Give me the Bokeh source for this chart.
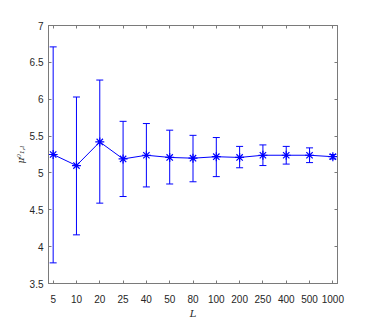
from bokeh.plotting import figure
from bokeh.models import ColumnDataSource, Whisker, TeeHead, FixedTicker, LinearAxis, Range1d
from bokeh.embed import file_html
from bokeh.resources import INLINE

L_labels = ["5", "10", "20", "25", "40", "50", "80", "100", "200", "250", "400", "500", "1000"]
mu = [5.25, 5.10, 5.42, 5.19, 5.24, 5.21, 5.20, 5.22, 5.21, 5.24, 5.24, 5.24, 5.22]
upper = [6.71, 6.03, 6.26, 5.70, 5.67, 5.58, 5.51, 5.48, 5.36, 5.38, 5.36, 5.34, 5.25]
lower = [3.78, 4.16, 4.59, 4.68, 4.81, 4.85, 4.88, 4.95, 5.07, 5.10, 5.12, 5.14, 5.19]
y_ticks = [3.5, 4, 4.5, 5, 5.5, 6, 6.5, 7]
y_tick_labels = ["3.5", "4", "4.5", "5", "5.5", "6", "6.5", "7"]

pos = list(range(1, len(L_labels) + 1))
src = ColumnDataSource(dict(x=pos, mu=mu, upper=upper, lower=lower))

BLUE = "#0000ff"
AX = "#7a7a7a"
TXT = "#262626"

p = figure(width=366, height=321, output_backend="svg", toolbar_location=None,
           x_range=Range1d(0.8, len(L_labels) + 0.2), y_range=Range1d(3.5, 7),
           min_border_left=48, min_border_right=29, min_border_top=25, min_border_bottom=36)
p.grid.visible = False
p.outline_line_color = AX
p.outline_line_width = 1
p.background_fill_color = "white"
p.border_fill_color = "white"

w = Whisker(base="x", upper="upper", lower="lower", source=src, dimension="height",
            line_color=BLUE, line_width=1,
            upper_head=TeeHead(size=7, line_color=BLUE, line_width=1),
            lower_head=TeeHead(size=7, line_color=BLUE, line_width=1))
p.add_layout(w)
p.line("x", "mu", source=src, line_color=BLUE, line_width=1)
p.scatter("x", "mu", source=src, marker="asterisk", size=9, line_color=BLUE, line_width=1.2)

xt = FixedTicker(ticks=pos)
yt = FixedTicker(ticks=y_ticks)
xover = {x: lab for x, lab in zip(pos, L_labels)}
yover = {y: lab for y, lab in zip(y_ticks, y_tick_labels)}

def style(ax):
    ax.axis_line_color = AX
    ax.major_tick_line_color = AX
    ax.major_tick_in = 3
    ax.major_tick_out = 0
    ax.minor_tick_line_color = None
    ax.major_label_text_font = "Liberation Sans"
    ax.major_label_text_font_size = "10px"
    ax.major_label_text_color = TXT

xa = p.xaxis[0]
xa.ticker = xt
xa.major_label_overrides = xover
style(xa)
xa.major_label_standoff = 11
xa.axis_label = "L"
xa.axis_label_text_font = "DejaVu Serif"
xa.axis_label_text_font_style = "italic"
xa.axis_label_text_font_size = "10px"
xa.axis_label_text_color = TXT
xa.axis_label_standoff = 2

ya = p.yaxis[0]
ya.ticker = yt
ya.major_label_overrides = yover
style(ya)
ya.major_label_standoff = 5
ya.axis_label = "μ⁰₁,ₗ"
ya.axis_label_text_font = "DejaVu Serif"
ya.axis_label_text_font_style = "italic"
ya.axis_label_text_font_size = "9px"
ya.axis_label_text_color = TXT
ya.axis_label_standoff = 1

top = LinearAxis(ticker=xt)
style(top)
top.major_label_overrides = {x: "" for x in pos}
top.major_label_standoff = 0
p.add_layout(top, "above")

right = LinearAxis(ticker=yt)
style(right)
right.major_label_overrides = {y: "" for y in y_ticks}
right.major_label_standoff = 0
p.add_layout(right, "right")

open("out.html", "w").write(file_html(p, INLINE))
